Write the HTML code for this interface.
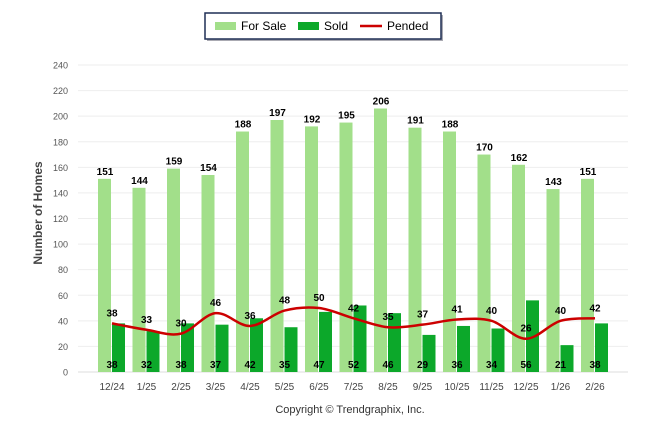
<!DOCTYPE html>
<html><head><meta charset="utf-8"><style>
body{margin:0;background:#fff;}
svg{display:block;font-family:"Liberation Sans",sans-serif;}
</style></head><body>
<svg id="chart" width="646" height="434">
<g>
<rect x="207" y="15" width="236" height="26" fill="#556" opacity="0.5"/>
<rect x="205" y="13" width="236" height="26" fill="#fff" stroke="#1f2f55" stroke-width="1.5"/>
<rect x="215" y="22" width="21" height="8" fill="#a2df8a"/>
<text x="241" y="30" font-size="12">For Sale</text>
<rect x="298" y="22" width="21" height="8" fill="#0ca82a"/>
<text x="324" y="30" font-size="12">Sold</text>
<line x1="360" y1="26" x2="382" y2="26" stroke="#cc0000" stroke-width="2.5"/>
<text x="387" y="30" font-size="12">Pended</text>
</g>
<text transform="translate(42,213) rotate(-90)" text-anchor="middle" font-size="12" font-weight="bold" fill="#444">Number of Homes</text>
<text x="350" y="413" text-anchor="middle" font-size="11" fill="#333">Copyright © Trendgraphix, Inc.</text>
<g id="grid"></g><g id="bars"></g><g id="line"></g><g id="labels"></g>
</svg>
<script>
const categories=["12/24","1/25","2/25","3/25","4/25","5/25","6/25","7/25","8/25","9/25","10/25","11/25","12/25","1/26","2/26"];
const forSale=[151,144,159,154,188,197,192,195,206,191,188,170,162,143,151];
const sold=[38,32,38,37,42,35,47,52,46,29,36,34,56,21,38];
const pended=[38,33,30,46,36,48,50,42,35,37,41,40,26,40,42];
const yTicks=[0,20,40,60,80,100,120,140,160,180,200,220,240];
const NS="http://www.w3.org/2000/svg";
const y=v=>372-v*(307/240);
const x=i=>112+i*34.5;
function mk(tag,attrs,parent,txt){const e=document.createElementNS(NS,tag);for(const k in attrs)e.setAttribute(k,attrs[k]);if(txt!==undefined)e.textContent=txt;document.getElementById(parent).appendChild(e);return e;}
yTicks.forEach(t=>{
 const g=mk('line',{x1:78,x2:628,y1:y(t),y2:y(t),stroke:t===0?'#ddd':'#eee','stroke-width':1},'grid');
 
 
 const l=mk('text',{x:68,y:y(t)+3.5,'text-anchor':'end','font-size':9,fill:'#555'},'grid',t);
 
 
});
categories.forEach((c,i)=>{
 const l=mk('text',{x:x(i),y:390,'text-anchor':'middle','font-size':10,fill:'#444'},'grid',c);
 
 
 const b=mk('rect',{x:x(i)-14,y:y(forSale[i]),width:13,height:372-y(forSale[i]),fill:'#a2df8a'},'bars');
 
 
 const s=mk('rect',{x:x(i),y:y(sold[i]),width:13,height:372-y(sold[i]),fill:'#0ca82a'},'bars');
 
 
 const fl=mk('text',{x:x(i)-7,y:y(forSale[i])-4,'text-anchor':'middle','font-size':10,'font-weight':'bold'},'labels',forSale[i]);
 
 
 const sl=mk('text',{x:x(i),y:368,'text-anchor':'middle','font-size':10,'font-weight':'bold'},'labels',sold[i]);
 
 
 const pl=mk('text',{x:x(i),y:y(pended[i])-7,'text-anchor':'middle','font-size':10,'font-weight':'bold'},'labels',pended[i]);
 
 
});
const pts=pended.map((v,i)=>[x(i),y(v)]);
let d='M'+pts[0][0]+','+pts[0][1];
for(let i=0;i<pts.length-1;i++){
 const p0=pts[Math.max(0,i-1)],p1=pts[i],p2=pts[i+1],p3=pts[Math.min(pts.length-1,i+2)];
 const c1=[p1[0]+(p2[0]-p0[0])/6,p1[1]+(p2[1]-p0[1])/6];
 const c2=[p2[0]-(p3[0]-p1[0])/6,p2[1]-(p3[1]-p1[1])/6];
 d+=' C'+c1+' '+c2+' '+p2;
}
const ln=mk('path',{d:d,fill:'none',stroke:'#cc0000','stroke-width':2.5},'line');


</script>
</body></html>
